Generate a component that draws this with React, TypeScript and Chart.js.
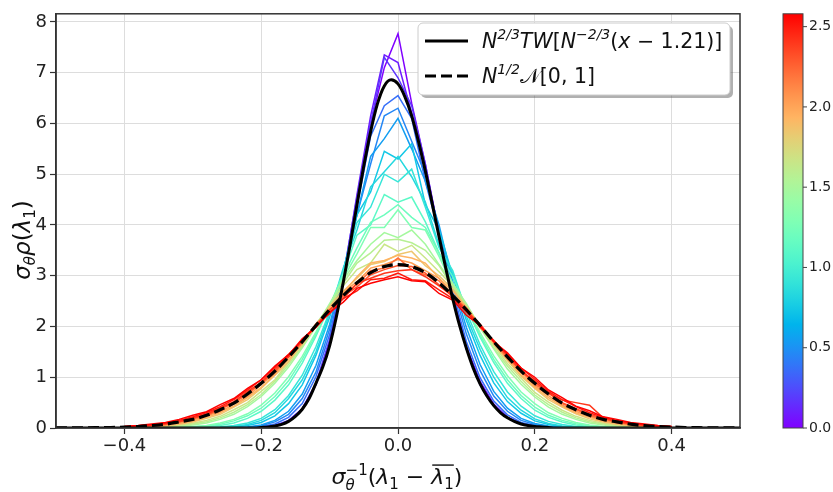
import React, { useEffect, useRef } from "react";
import { Chart, registerables } from "chart.js";
Chart.register(...registerables);

// ---------- data ----------
const X_TICKS = [-0.4, -0.2, 0, 0.2, 0.4];
const Y_TICKS = [0, 1, 2, 3, 4, 5, 6, 7, 8];
const CB_TICKS = [0, 0.5, 1.0, 1.5, 2.0, 2.5];
const T_MAX = 2.58;

const X_GRID = [-0.40,-0.38,-0.36,-0.34,-0.32,-0.30,-0.28,-0.26,-0.24,-0.22,-0.20,-0.18,-0.16,-0.14,-0.12,-0.10,-0.08,-0.06,-0.04,-0.02,0,0.02,0.04,0.06,0.08,0.10,0.12,0.14,0.16,0.18,0.20,0.22,0.24,0.26,0.28,0.30,0.32,0.34,0.36,0.38,0.40];

const T_VALUES = [0, 0.09, 0.18, 0.37, 0.46, 0.55, 0.74, 0.83, 0.92, 1.11, 1.20, 1.29, 1.48, 1.57, 1.66, 1.85, 1.94, 2.03, 2.22, 2.31, 2.40, 2.49, 2.58];

const C01 = [0,0,0,0,0,0,0,0,0,0, 0.01,0.04,0.13,0.38,0.86,1.62,2.85,4.5,6.0,7.1, 7.77, 6.4,5.2,3.85,2.6,1.6,0.92,0.47,0.21,0.09,0.03,0.01, 0,0,0,0,0,0,0,0,0];
const C02 = [0,0,0,0,0,0,0,0,0,0, 0.01,0.045,0.14,0.37,0.85,1.7,2.95,4.6,6.15,7.35, 7.2, 6.2,5.05,3.9,2.6,1.55,0.9,0.46,0.21,0.09,0.035,0.01, 0,0,0,0,0,0,0,0,0];
const C03 = [0,0,0,0,0,0,0,0,0,0, 0.01,0.05,0.15,0.38,0.88,1.74,3.0,4.55,6.0,7.3, 6.9, 6.35,5.2,3.8,2.55,1.55,0.85,0.45,0.21,0.09,0.04,0.01, 0,0,0,0,0,0,0,0,0];
const C04 = [0,0,0,0,0,0,0,0,0, 0.01,0.03,0.08,0.21,0.48,1.01,1.84,3.0,4.35,5.75,6.35, 6.55, 6.1,4.85,3.85,2.7,1.7,0.99,0.53,0.26,0.11,0.05,0.02,0.01, 0,0,0,0,0,0,0,0];
const C05 = [0,0,0,0,0,0,0,0, 0.005,0.015,0.045,0.12,0.27,0.58,1.1,1.95,3.1,4.2,5.2,6.15, 6.3, 5.65,5.0,3.85,2.8,1.85,1.13,0.63,0.33,0.15,0.07,0.03,0.015,0.005, 0,0,0,0,0,0,0];
const C06 = [0,0,0,0,0,0,0,0, 0.01,0.02,0.06,0.15,0.33,0.67,1.23,2.04,3.06,4.2,5.35,5.7, 6.1, 5.5,4.86,4.0,2.88,1.98,1.25,0.72,0.39,0.19,0.09,0.04,0.02,0.01, 0,0,0,0,0,0,0];
const C07 = [0,0,0,0,0,0,0, 0.01,0.02,0.05,0.11,0.24,0.48,0.85,1.43,2.18,3.1,4.2,4.65,5.45, 5.3, 5.6,4.4,3.9,3.0,2.12,1.43,0.89,0.52,0.29,0.14,0.07,0.03,0.015,0.01, 0,0,0,0,0,0];
const C08 = [0,0,0,0,0,0, 0.005,0.01,0.03,0.07,0.15,0.3,0.58,0.95,1.5,2.25,3.15,3.9,4.75,5.05, 5.35, 4.95,4.45,3.6,3.05,2.2,1.55,1.0,0.6,0.35,0.18,0.09,0.04,0.02,0.01,0.005, 0,0,0,0,0];
const C09 = [0,0,0,0,0, 0.005,0.01,0.02,0.05,0.10,0.19,0.36,0.64,1.04,1.6,2.29,3.07,4.05,4.35,5.0, 4.85, 5.1,4.35,3.55,3.1,2.29,1.64,1.11,0.71,0.43,0.24,0.13,0.07,0.03,0.015,0.01,0.005, 0,0,0,0];
const C10 = [0,0,0,0, 0.005,0.01,0.03,0.05,0.10,0.19,0.33,0.55,0.85,1.28,1.81,2.4,3.05,3.8,4.0,4.6, 4.45, 4.55,4.06,3.45,2.98,2.37,1.79,1.29,0.88,0.58,0.35,0.21,0.12,0.06,0.03,0.015,0.007,0.003, 0,0,0];
const C11 = [0,0,0, 0.004,0.01,0.02,0.04,0.075,0.14,0.24,0.39,0.62,0.93,1.35,1.85,2.4,3.0,3.55,4.05,4.2, 4.4, 4.15,3.95,3.45,2.85,2.38,1.83,1.35,0.95,0.64,0.41,0.25,0.15,0.085,0.045,0.022,0.01,0.005,0, 0,0];
const C12 = [0,0, 0.003,0.006,0.014,0.03,0.05,0.10,0.17,0.28,0.45,0.69,1.01,1.41,1.89,2.41,2.95,3.43,3.95,3.95, 4.3, 3.95,3.9,3.38,2.8,2.39,1.88,1.42,1.03,0.71,0.48,0.30,0.19,0.11,0.06,0.03,0.015,0.007,0.003, 0,0];
const C13 = [0.002,0.005,0.01,0.018,0.034,0.06,0.10,0.17,0.27,0.42,0.62,0.88,1.2,1.58,2.0,2.45,2.92,3.3,3.62,3.85, 3.75, 3.9,3.62,3.22,2.85,2.45,1.98,1.56,1.16,0.86,0.61,0.41,0.27,0.17,0.10,0.06,0.034,0.018,0.01,0.005,0.002];
const C14 = [0.003,0.007,0.014,0.025,0.045,0.077,0.125,0.2,0.31,0.46,0.66,0.92,1.25,1.6,2.05,2.4,2.85,3.25,3.45,3.7, 3.72, 3.65,3.5,3.2,2.78,2.42,2.0,1.58,1.22,0.92,0.65,0.46,0.31,0.2,0.125,0.077,0.045,0.025,0.014,0.007,0.003];
const C15 = [0.005,0.01,0.019,0.033,0.057,0.094,0.15,0.23,0.36,0.5,0.72,0.95,1.3,1.62,2.02,2.38,2.8,3.12,3.25,3.62, 3.48, 3.6,3.35,3.08,2.8,2.38,2.03,1.63,1.27,0.98,0.7,0.51,0.35,0.23,0.15,0.094,0.057,0.033,0.019,0.01,0.005];
const C16 = [0.009,0.016,0.027,0.046,0.075,0.12,0.19,0.27,0.41,0.56,0.78,1.04,1.3,1.68,2.0,2.4,2.7,2.95,3.22,3.28, 3.42, 3.48,3.2,3.0,2.74,2.35,2.03,1.65,1.33,1.02,0.78,0.56,0.41,0.28,0.18,0.12,0.075,0.046,0.027,0.016,0.009];
const C17 = [0.011,0.02,0.034,0.055,0.088,0.135,0.21,0.3,0.43,0.6,0.8,1.05,1.35,1.66,2.02,2.35,2.66,2.98,3.25,3.3, 3.4, 3.35,3.25,2.95,2.7,2.38,2.0,1.68,1.36,1.05,0.8,0.6,0.43,0.3,0.21,0.135,0.088,0.055,0.034,0.02,0.011];
const C18 = [0.014,0.024,0.04,0.064,0.10,0.15,0.24,0.32,0.47,0.62,0.86,1.07,1.4,1.67,2.05,2.3,2.68,2.88,3.15,3.22, 3.32, 3.25,3.1,2.95,2.62,2.37,2.0,1.7,1.36,1.1,0.83,0.64,0.45,0.33,0.23,0.15,0.10,0.064,0.04,0.024,0.014];
const C19 = [0.018,0.03,0.05,0.07,0.12,0.18,0.24,0.37,0.5,0.66,0.9,1.1,1.42,1.68,2.05,2.3,2.64,2.83,3.1,3.15, 3.35, 3.12,3.02,2.9,2.58,2.36,1.98,1.73,1.38,1.15,0.86,0.69,0.48,0.37,0.24,0.18,0.11,0.075,0.048,0.029,0.018];
const C20 = [0.02,0.033,0.053,0.08,0.125,0.19,0.26,0.38,0.5,0.7,0.88,1.13,1.42,1.72,2.0,2.32,2.6,2.78,3.02,3.12, 3.2, 3.18,3.05,2.82,2.62,2.32,2.0,1.72,1.42,1.12,0.9,0.7,0.5,0.38,0.27,0.19,0.125,0.08,0.053,0.033,0.02];
const C21 = [0.022,0.036,0.057,0.087,0.13,0.2,0.27,0.4,0.52,0.72,0.9,1.17,1.4,1.75,2.0,2.33,2.55,2.85,2.95,3.05, 3.1, 3.12,2.98,2.8,2.6,2.3,2.05,1.7,1.45,1.12,0.93,0.68,0.55,0.5,0.45,0.2,0.13,0.087,0.057,0.036,0.022];
const C22 = [0.027,0.043,0.066,0.1,0.15,0.22,0.3,0.42,0.56,0.75,0.95,1.2,1.45,1.72,2.02,2.25,2.55,2.7,2.92,2.95, 3.05, 2.92,2.9,2.72,2.55,2.28,2.0,1.72,1.45,1.18,0.96,0.72,0.56,0.42,0.3,0.21,0.15,0.1,0.066,0.043,0.027];
const C23 = [0.033,0.05,0.077,0.11,0.17,0.25,0.32,0.46,0.58,0.78,0.95,1.22,1.44,1.76,1.98,2.28,2.48,2.75,2.85,2.92, 2.98, 2.9,2.88,2.65,2.52,2.22,2.02,1.7,1.48,1.18,1.0,0.75,0.6,0.43,0.34,0.22,0.17,0.11,0.077,0.05,0.033];
const CURVES = [C01, C02, C03, C04, C05, C06, C07, C08, C09, C10, C11, C12, C13, C14, C15, C16, C17, C18, C19, C20, C21, C22, C23];

const TW_X = [-0.50,-0.21,-0.20,-0.19,-0.18,-0.17,-0.16,-0.15,-0.14,-0.13,-0.12,-0.11,-0.10,-0.09,-0.08,-0.07,-0.06,-0.05,-0.04,-0.03,-0.02,-0.01,0,0.01,0.02,0.03,0.04,0.05,0.06,0.07,0.08,0.09,0.10,0.11,0.12,0.13,0.14,0.15,0.16,0.17,0.18,0.19,0.20,0.21,0.22,0.23,0.50];
const TW_Y = [0,0,0.01,0.02,0.04,0.07,0.13,0.23,0.37,0.58,0.88,1.2,1.62,2.20,2.87,3.61,4.40,5.16,5.84,6.39,6.74,6.86,6.78,6.53,6.15,5.64,5.06,4.42,3.77,3.14,2.55,2.02,1.57,1.18,0.87,0.63,0.44,0.30,0.20,0.13,0.08,0.05,0.03,0.02,0.01,0,0];

const GAUSS_X = [-0.50,-0.48,-0.46,-0.44,-0.42,-0.40,-0.38,-0.36,-0.34,-0.32,-0.30,-0.28,-0.26,-0.24,-0.22,-0.20,-0.18,-0.16,-0.14,-0.12,-0.10,-0.08,-0.06,-0.04,-0.02,0,0.02,0.04,0.06,0.08,0.10,0.12,0.14,0.16,0.18,0.20,0.22,0.24,0.26,0.28,0.30,0.32,0.34,0.36,0.38,0.40,0.42,0.44,0.46,0.48,0.50];
const GAUSS_Y = [0.001,0.002,0.003,0.006,0.01,0.018,0.029,0.048,0.075,0.12,0.17,0.25,0.36,0.49,0.67,0.88,1.12,1.40,1.70,2.02,2.33,2.61,2.86,3.06,3.18,3.22,3.18,3.06,2.86,2.61,2.33,2.02,1.70,1.40,1.12,0.88,0.67,0.49,0.36,0.25,0.17,0.12,0.075,0.048,0.029,0.018,0.01,0.006,0.003,0.002,0.001];

// ---------- styling helpers ----------
const FONT = '"DejaVu Sans", sans-serif';

function rainbow(v: number): string {
  const r = Math.min(1, Math.abs(2 * v - 0.5));
  const g = Math.sin(Math.PI * v);
  const b = Math.cos((Math.PI * v) / 2);
  return `rgb(${Math.round(r * 255)},${Math.round(g * 255)},${Math.round(Math.max(0, b) * 255)})`;
}

type Seg = { t: string; s?: number; it?: boolean; dy?: number; adv0?: boolean; ol?: boolean };

function segFont(seg: Seg, base: number) {
  return `${seg.it ? "italic " : ""}${seg.s ?? base}px ${FONT}`;
}
function richWidth(ctx: CanvasRenderingContext2D, segs: Seg[], base: number) {
  let w = 0;
  for (const s of segs) {
    ctx.font = segFont(s, base);
    if (!s.adv0) w += ctx.measureText(s.t).width;
  }
  return w;
}
function drawRich(ctx: CanvasRenderingContext2D, segs: Seg[], x: number, y: number, base: number, align: "left" | "center") {
  const w = richWidth(ctx, segs, base);
  let cx = align === "center" ? x - w / 2 : x;
  let olStart = -1, olEnd = -1;
  ctx.textAlign = "left";
  ctx.textBaseline = "alphabetic";
  for (const s of segs) {
    ctx.font = segFont(s, base);
    const sw = ctx.measureText(s.t).width;
    ctx.fillText(s.t, cx, y + (s.dy ?? 0));
    if (s.ol) {
      if (olStart < 0) olStart = cx;
      olEnd = cx + sw;
    }
    if (!s.adv0) cx += sw;
  }
  if (olStart >= 0) {
    ctx.save();
    ctx.strokeStyle = ctx.fillStyle as string;
    ctx.lineWidth = 1.4;
    ctx.beginPath();
    ctx.moveTo(olStart + 1, y - base * 0.86);
    ctx.lineTo(olEnd, y - base * 0.86);
    ctx.stroke();
    ctx.restore();
  }
}

const LEGEND1: Seg[] = [
  { t: "N", it: true }, { t: "2/3", s: 14, it: true, dy: -9 }, { t: "TW", it: true }, { t: "[" },
  { t: "N", it: true }, { t: "−2/3", s: 14, it: true, dy: -9 }, { t: "(" }, { t: "x", it: true },
  { t: " − " }, { t: "1.21" }, { t: ")]" },
];
const LEGEND2: Seg[] = [
  { t: "N", it: true }, { t: "1/2", s: 14, it: true, dy: -9 }, { t: "𝒩" }, { t: "[0, 1]" },
];
const YLABEL: Seg[] = [
  { t: "σ", it: true }, { t: "θ", s: 15, it: true, dy: 5 }, { t: "ρ", it: true }, { t: "(" },
  { t: "λ", it: true }, { t: "1", s: 15, dy: 5 }, { t: ")" },
];
const XLABEL: Seg[] = [
  { t: "σ", it: true }, { t: "θ", s: 15, it: true, dy: 6, adv0: true }, { t: "−1", s: 15, dy: -9 },
  { t: "(" }, { t: "λ", it: true }, { t: "1", s: 15, dy: 5 }, { t: " − " },
  { t: "λ", it: true, ol: true }, { t: "1", s: 15, dy: 5, ol: true }, { t: ")" },
];

const overlayPlugin = {
  id: "overlay",
  afterDraw(chart: any) {
    const ctx: CanvasRenderingContext2D = chart.ctx;
    const a = chart.chartArea;
    ctx.save();
    // axes frame
    ctx.strokeStyle = "#333";
    ctx.lineWidth = 1.5;
    ctx.strokeRect(a.left, a.top, a.right - a.left, a.bottom - a.top);

    // legend box with shadow
    const lx = 418, ly = 23, lw = 312, lh = 72;
    ctx.fillStyle = "rgba(80,80,80,0.45)";
    ctx.beginPath();
    (ctx as any).roundRect(lx + 3, ly + 3, lw, lh, 5);
    ctx.fill();
    ctx.fillStyle = "#ffffff";
    ctx.beginPath();
    (ctx as any).roundRect(lx, ly, lw, lh, 5);
    ctx.fill();
    ctx.strokeStyle = "#cccccc";
    ctx.lineWidth = 1;
    ctx.stroke();

    ctx.strokeStyle = "#000";
    ctx.lineWidth = 3;
    ctx.beginPath();
    ctx.moveTo(425, 41);
    ctx.lineTo(468, 41);
    ctx.stroke();
    ctx.setLineDash([11, 5]);
    ctx.beginPath();
    ctx.moveTo(425, 76);
    ctx.lineTo(468, 76);
    ctx.stroke();
    ctx.setLineDash([]);
    ctx.fillStyle = "#111";
    drawRich(ctx, LEGEND1, 482, 48, 20.5, "left");
    drawRich(ctx, LEGEND2, 482, 83, 20.5, "left");

    // axis titles
    ctx.fillStyle = "#111";
    drawRich(ctx, XLABEL, 397, 484, 22, "center");
    ctx.save();
    ctx.translate(30, 240);
    ctx.rotate(-Math.PI / 2);
    drawRich(ctx, YLABEL, 0, 0, 23, "center");
    ctx.restore();

    // colorbar
    const cbL = 783, cbR = 803, cbT = a.top, cbB = a.bottom;
    const grad = ctx.createLinearGradient(0, cbB, 0, cbT);
    for (let i = 0; i <= 20; i++) grad.addColorStop(i / 20, rainbow(i / 20));
    ctx.fillStyle = grad;
    ctx.fillRect(cbL, cbT, cbR - cbL, cbB - cbT);
    ctx.strokeStyle = "#444";
    ctx.lineWidth = 1;
    ctx.strokeRect(cbL, cbT, cbR - cbL, cbB - cbT);
    ctx.fillStyle = "#222";
    ctx.font = `14px ${FONT}`;
    ctx.textAlign = "left";
    ctx.textBaseline = "middle";
    for (const v of CB_TICKS) {
      const y = cbB - (v / T_MAX) * (cbB - cbT);
      ctx.beginPath();
      ctx.moveTo(cbR, y);
      ctx.lineTo(cbR + 4, y);
      ctx.stroke();
      ctx.fillText(v.toFixed(1), cbR + 6, y);
    }
    ctx.restore();
  },
};

export default function App() {
  const ref = useRef<HTMLCanvasElement | null>(null);
  useEffect(() => {
    document.body.style.margin = "0";
    const canvas = ref.current;
    if (!canvas) return;
    const datasets: any[] = [
      {
        label: "TW",
        data: TW_X.map((x, i) => ({ x, y: TW_Y[i] })),
        borderColor: "#000",
        borderWidth: 3,
        pointRadius: 0,
        cubicInterpolationMode: "monotone",
        order: 0,
      },
      {
        label: "Gauss",
        data: GAUSS_X.map((x, i) => ({ x, y: GAUSS_Y[i] })),
        borderColor: "#000",
        borderWidth: 3.2,
        borderDash: [11, 5],
        pointRadius: 0,
        cubicInterpolationMode: "monotone",
        order: 1,
      },
      ...CURVES.map((ys, k) => ({
        label: `t=${T_VALUES[k]}`,
        data: X_GRID.map((x, i) => ({ x, y: ys[i] })),
        borderColor: rainbow(T_VALUES[k] / T_MAX),
        borderWidth: 1.5,
        pointRadius: 0,
        tension: 0,
        order: 2 + (CURVES.length - 1 - k),
      })),
    ];
    const tickFont = { family: FONT, size: 18 };
    const chart = new Chart(canvas, {
      type: "line",
      data: { datasets },
      options: {
        animation: false,
        responsive: false,
        devicePixelRatio: 1,
        events: [],
        layout: { padding: { left: 0, top: 12, right: 93, bottom: 0 } },
        plugins: { legend: { display: false }, tooltip: { enabled: false } },
        scales: {
          x: {
            type: "linear",
            min: -0.5,
            max: 0.5,
            afterBuildTicks: (s: any) => {
              s.ticks = X_TICKS.map((v) => ({ value: v }));
            },
            afterFit: (s: any) => {
              s.height = 64;
            },
            ticks: {
              font: tickFont,
              color: "#222",
              padding: 2,
              maxRotation: 0,
              autoSkip: false,
              callback: (v: any) => (v < 0 ? "−" : "") + Math.abs(Number(v)).toFixed(1),
            },
            grid: { color: "#dddddd", lineWidth: 1, tickLength: 6, tickColor: "#333", tickWidth: 1.2 },
            border: { display: true, color: "#333", width: 1.5 },
          },
          y: {
            type: "linear",
            min: 0,
            max: 8.16,
            afterBuildTicks: (s: any) => {
              s.ticks = Y_TICKS.map((v) => ({ value: v }));
            },
            afterFit: (s: any) => {
              s.width = 56;
            },
            ticks: {
              font: tickFont,
              color: "#222",
              padding: 3,
              autoSkip: false,
              callback: (v: any) => String(v),
            },
            grid: { color: "#dddddd", lineWidth: 1, tickLength: 6, tickColor: "#333", tickWidth: 1.2 },
            border: { display: true, color: "#333", width: 1.5 },
          },
        },
      } as any,
      plugins: [overlayPlugin],
    });
    return () => chart.destroy();
  }, []);
  return (
    <div style={{ width: 833, height: 492, background: "#fff" }}>
      <canvas ref={ref} width={833} height={492} style={{ display: "block" }} />
    </div>
  );
}
